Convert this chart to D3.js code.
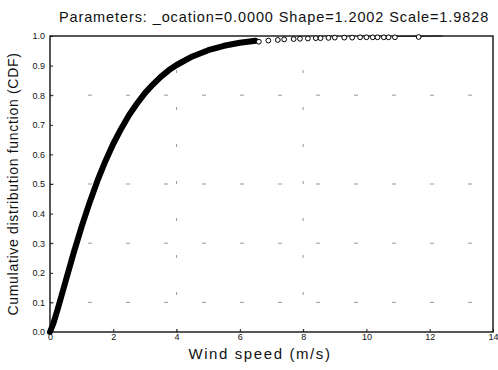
<!DOCTYPE html>
<html lang="en">
<head>
<meta charset="UTF-8">
<title>Weibull CDF</title>
<style>
  body { margin: 0; background: #fff; }
  svg text { font-family: "Liberation Sans", Arial, sans-serif; fill: #111; }
</style>
</head>
<body>
<div id="chart"></div>
<script src="https://d3js.org/d3.v7.min.js"></script>
<script>
// values
const curveSpeed = [0, 0.1, 0.25, 0.5, 0.75, 1, 1.25, 1.5, 1.75, 2, 2.25, 2.5, 2.75, 3, 3.25, 3.5, 3.75, 4, 4.5, 5, 5.5, 6, 6.5];
const curveCdf   = [0, 0.027, 0.080, 0.174, 0.268, 0.356, 0.437, 0.511, 0.577, 0.636, 0.687, 0.733, 0.772, 0.807, 0.836, 0.862, 0.884, 0.902, 0.931, 0.952, 0.967, 0.977, 0.984];
const tailSpeed = [6.6, 6.9, 7.2, 7.4, 7.7, 7.9, 8.15, 8.4, 8.55, 8.8, 9.0, 9.3, 9.55, 9.8, 10.0, 10.2, 10.35, 10.55, 10.7, 10.9, 11.65];
const tailCdf   = [0.984, 0.988, 0.990, 0.992, 0.993, 0.994, 0.995, 0.996, 0.996, 0.997, 0.998, 0.998, 0.998, 0.999, 0.999, 0.999, 0.999, 0.999, 0.999, 0.999, 1.0];
const xTicks = [0, 2, 4, 6, 8, 10, 12, 14];
const yTicks = [0, 0.1, 0.2, 0.3, 0.4, 0.5, 0.6, 0.7, 0.8, 0.9, 1.0];
const gridX = [4, 8];
const gridY = [0.1, 0.3, 0.5, 0.8];
const title = "Parameters: _ocation=0.0000 Shape=1.2002 Scale=1.9828";

const width = 498, height = 370;
const margin = { top: 36, right: 5, bottom: 38, left: 50 };

const svg = d3.select("#chart").append("svg")
    .attr("width", width)
    .attr("height", height);

const x = d3.scaleLinear().domain([0, 14]).range([margin.left, width - margin.right]);
const y = d3.scaleLinear().domain([0, 1]).range([height - margin.bottom, margin.top]);

// faint dotted grid
svg.append("g").selectAll("line").data(gridY).join("line")
    .attr("x1", x(0)).attr("x2", x(14))
    .attr("y1", d => y(d)).attr("y2", d => y(d))
    .attr("stroke", "#999").attr("stroke-width", 1)
    .attr("stroke-dasharray", "4,34");
svg.append("g").selectAll("line").data(gridX).join("line")
    .attr("y1", y(0)).attr("y2", y(1))
    .attr("x1", d => x(d)).attr("x2", d => x(d))
    .attr("stroke", "#999").attr("stroke-width", 1)
    .attr("stroke-dasharray", "3,34");

// axes
const xAxis = svg.append("g")
    .attr("transform", `translate(0,${y(0)})`)
    .call(d3.axisBottom(x).tickValues(xTicks).tickFormat(d3.format("d")).tickSizeInner(-3).tickSizeOuter(0).tickPadding(2));
const yAxis = svg.append("g")
    .attr("transform", `translate(${x(0)},0)`)
    .call(d3.axisLeft(y).tickValues(yTicks).tickFormat(d3.format(".1f")).tickSizeInner(-3).tickSizeOuter(0).tickPadding(5));
[xAxis, yAxis].forEach(a => {
    a.select(".domain").remove();
    a.selectAll("line").attr("stroke", "#222");
    a.selectAll("text").attr("font-size", 9).attr("fill", "#222");
});

// frame
svg.append("rect")
    .attr("x", x(0)).attr("y", y(1))
    .attr("width", x(14) - x(0)).attr("height", y(0) - y(1))
    .attr("fill", "none").attr("stroke", "#111").attr("stroke-width", 1.4);

// dense part of the fitted points, drawn as a thick band
const line = d3.line().x((d, i) => x(curveSpeed[i])).y(d => y(d));
svg.append("path")
    .attr("d", line(curveCdf))
    .attr("fill", "none").attr("stroke", "#000")
    .attr("stroke-width", 6).attr("stroke-linecap", "round").attr("stroke-linejoin", "round");

// thin line to the right along the top
svg.append("line")
    .attr("x1", x(10.9)).attr("x2", x(12.4))
    .attr("y1", y(0.999)).attr("y2", y(1))
    .attr("stroke", "#111").attr("stroke-width", 1);

// sparse tail markers
svg.append("g").selectAll("circle").data(tailSpeed).join("circle")
    .attr("cx", d => x(d))
    .attr("cy", (d, i) => y(tailCdf[i]) + 1)
    .attr("r", 2.4)
    .attr("fill", "#fff").attr("stroke", "#000").attr("stroke-width", 1);

// texts
svg.append("text")
    .attr("x", 274).attr("y", 22)
    .attr("text-anchor", "middle").attr("font-size", 14.5)
    .attr("letter-spacing", 0.9)
    .text(title);
svg.append("text")
    .attr("x", 260).attr("y", 359)
    .attr("text-anchor", "middle").attr("font-size", 15)
    .attr("letter-spacing", 1.6)
    .text("Wind speed (m/s)");
svg.append("text")
    .attr("transform", `translate(18,${(y(0) + y(1)) / 2}) rotate(-90)`)
    .attr("text-anchor", "middle").attr("font-size", 14)
    .attr("letter-spacing", 0.7)
    .text("Cumulative distribution function (CDF)");
</script>
</body>
</html>
